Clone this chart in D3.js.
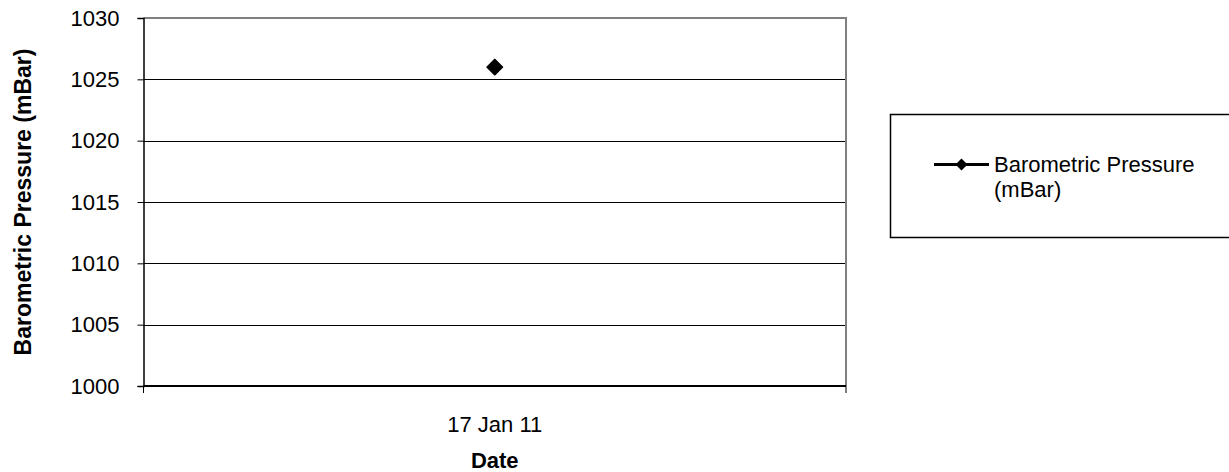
<!DOCTYPE html>
<html>
<head>
<meta charset="utf-8">
<script src="https://cdn.jsdelivr.net/npm/d3@7"></script>
<style>
  body { margin: 0; background: #fff; }
  svg { display: block; font-family: "Liberation Sans", Arial, sans-serif; }
</style>
</head>
<body>
<svg width="1229" height="472"></svg>
<script>
const dates = ["17 Jan 11"];
const pressure = [1026];
const yTicks = [1000, 1005, 1010, 1015, 1020, 1025, 1030];
const seriesName = ["Barometric Pressure", "(mBar)"];

const svg = d3.select("svg");
const plotL = 143.5, plotR = 846, plotT = 18, plotB = 386;

const x = d3.scaleBand().domain(dates).range([plotL, plotR]).padding(0);
const y = d3.scaleLinear().domain([1000, 1030]).range([plotB, plotT]);

// gridlines
svg.append("g").selectAll("line")
    .data(yTicks.filter(t => t > 1000))
    .enter().append("line")
    .attr("x1", plotL).attr("x2", plotR)
    .attr("y1", d => Math.round(y(d)) + 0.5).attr("y2", d => Math.round(y(d)) + 0.5)
    .attr("stroke", "#000").attr("stroke-width", 1);

// plot border (top + right)
svg.append("path")
    .attr("d", `M${plotL},${plotT} H${plotR} V${plotB}`)
    .attr("fill", "none").attr("stroke", "#808080").attr("stroke-width", 2);

// y axis
const yAxis = svg.append("g")
    .attr("transform", `translate(${plotL},0)`)
    .call(d3.axisLeft(y).tickValues(yTicks).tickSize(6).tickPadding(18).tickFormat(d3.format("d")));
yAxis.select(".domain").attr("stroke", "#000").attr("stroke-width", 1.5);
yAxis.selectAll(".tick line").attr("stroke", "#000");
yAxis.selectAll(".tick text").attr("font-size", 22).attr("fill", "#000")
    .attr("font-family", "Liberation Sans, Arial, sans-serif");

// x axis
const xAxis = svg.append("g")
    .attr("transform", `translate(0,${plotB})`)
    .call(d3.axisBottom(x).tickSize(0).tickPadding(0));
xAxis.select(".domain").remove();
xAxis.selectAll(".tick text").attr("font-size", 22).attr("fill", "#000")
    .attr("font-family", "Liberation Sans, Arial, sans-serif")
    .attr("dy", null).attr("y", 45.5);
xAxis.append("line")
    .attr("x1", plotL).attr("x2", plotR).attr("y1", 0).attr("y2", 0)
    .attr("stroke", "#000").attr("stroke-width", 2);
// boundary ticks
xAxis.selectAll("line.bt")
    .data([x.range()[0], x.range()[1]])
    .enter().append("line").attr("class", "bt")
    .attr("x1", d => d).attr("x2", d => d).attr("y1", 0).attr("y2", 7)
    .attr("stroke", "#000").attr("stroke-width", 1);

// axis titles
svg.append("text")
    .attr("transform", `translate(31,${(plotT + plotB) / 2}) rotate(-90)`)
    .attr("text-anchor", "middle").attr("font-size", 23).attr("font-weight", "bold")
    .text("Barometric Pressure (mBar)");
svg.append("text")
    .attr("x", x(dates[0]) + x.bandwidth() / 2).attr("y", 468)
    .attr("text-anchor", "middle").attr("font-size", 22).attr("font-weight", "bold")
    .text("Date");

// series
const diamond = d3.symbol().type(d3.symbolSquare).size(128);
const pts = dates.map((d, i) => ({ d, v: pressure[i] }));
svg.append("path")
    .datum(pts)
    .attr("fill", "none").attr("stroke", "#000").attr("stroke-width", 3)
    .attr("d", d3.line().x(p => x(p.d) + x.bandwidth() / 2).y(p => y(p.v)));
svg.selectAll("path.pt")
    .data(pts).enter().append("path").attr("class", "pt")
    .attr("d", diamond)
    .attr("transform", p => `translate(${x(p.d) + x.bandwidth() / 2},${y(p.v)}) rotate(45)`)
    .attr("fill", "#000").attr("stroke", "#000").attr("stroke-width", 1).attr("stroke-linejoin", "round");

// legend
const lg = svg.append("g");
lg.append("rect")
    .attr("x", 890.5).attr("y", 114.5).attr("width", 360).attr("height", 123)
    .attr("fill", "#fff").attr("stroke", "#000").attr("stroke-width", 1.5);
lg.append("line")
    .attr("x1", 934).attr("x2", 989).attr("y1", 164.5).attr("y2", 164.5)
    .attr("stroke", "#000").attr("stroke-width", 3);
lg.append("path")
    .attr("d", d3.symbol().type(d3.symbolSquare).size(72))
    .attr("transform", "translate(961.5,164.5) rotate(45)")
    .attr("fill", "#000").attr("stroke-linejoin", "round");
lg.append("text")
    .attr("x", 994).attr("y", 172).attr("font-size", 22)
    .selectAll("tspan").data(seriesName).enter().append("tspan")
    .attr("x", 994).attr("dy", (d, i) => i === 0 ? 0 : 25)
    .text(d => d);
</script>
</body>
</html>
